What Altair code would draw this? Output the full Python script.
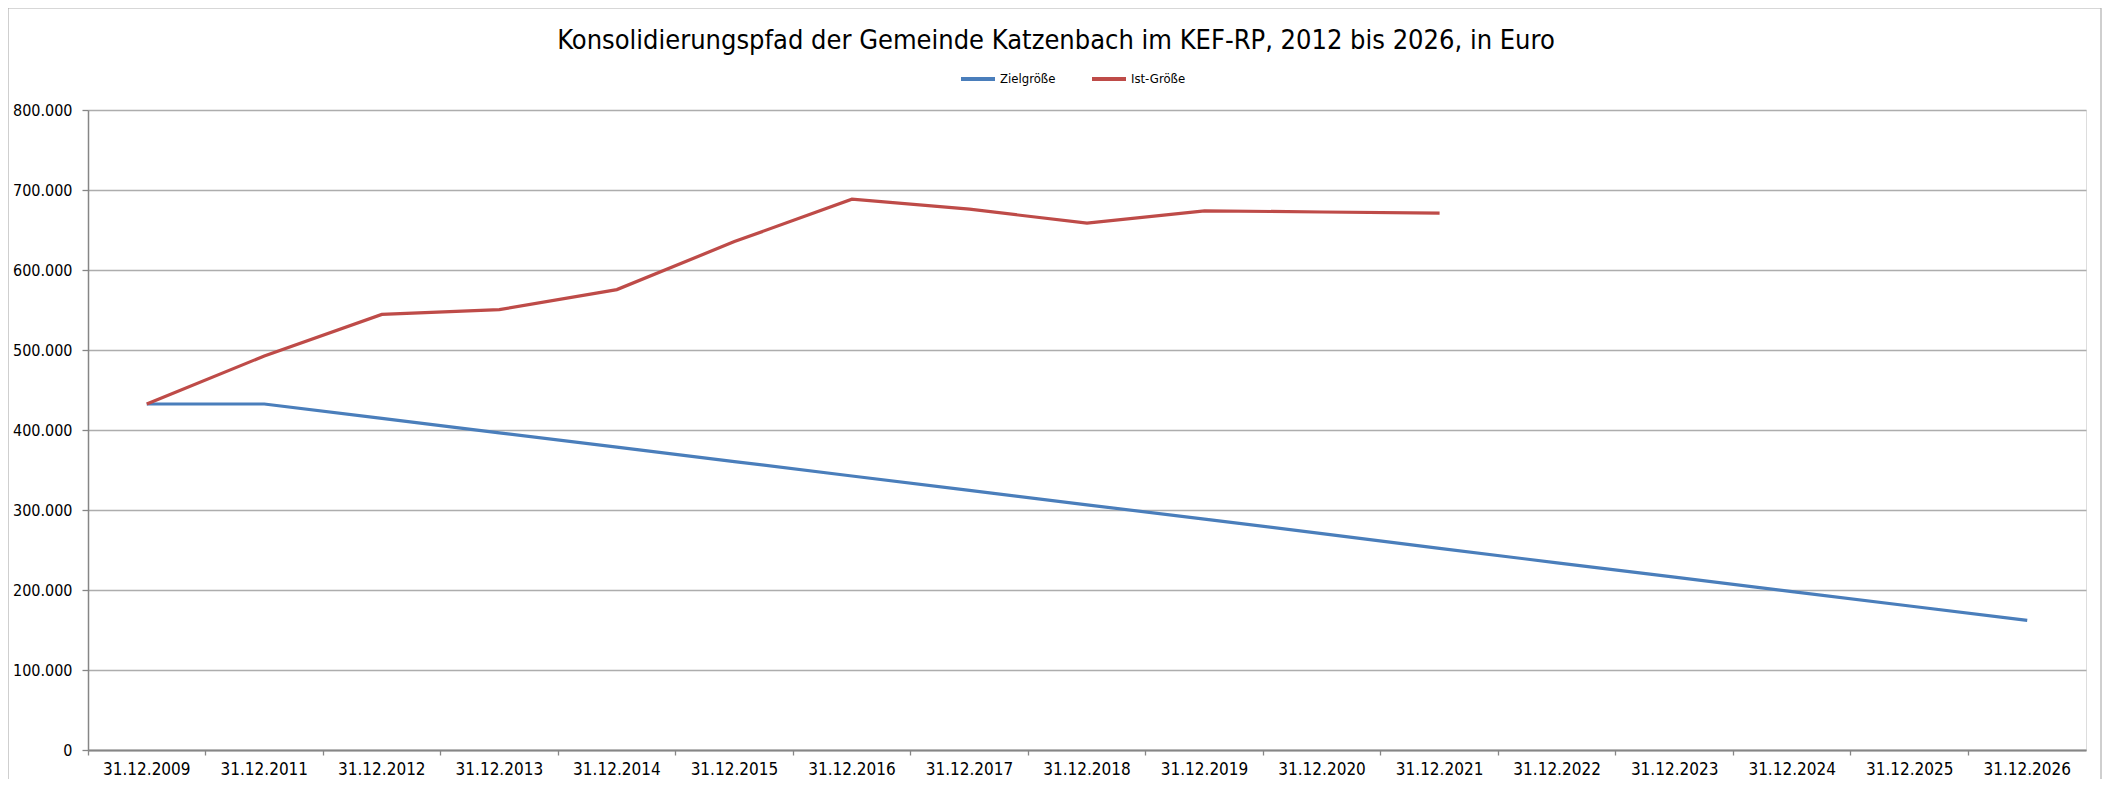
import altair as alt
import pandas as pd

# ---- data ----
dates = ["31.12.2009", "31.12.2011", "31.12.2012", "31.12.2013", "31.12.2014",
         "31.12.2015", "31.12.2016", "31.12.2017", "31.12.2018", "31.12.2019",
         "31.12.2020", "31.12.2021", "31.12.2022", "31.12.2023", "31.12.2024",
         "31.12.2025", "31.12.2026"]
ziel = [432500, 432500, 414500, 396500, 378500, 360500, 342500, 324500, 306500,
        288500, 270500, 252000, 234000, 216000, 198000, 180000, 162000]
ist = [432500, 492500, 544500, 550500, 575500, 635500, 688500, 676000, 658500,
       674000, 672500, 671000]
series = ["Zielgröße", "Ist-Größe"]
colors = ["#4A7EBB", "#BE4B48"]
y_ticks = [0, 100000, 200000, 300000, 400000, 500000, 600000, 700000, 800000]
title_text = "Konsolidierungspfad der Gemeinde Katzenbach im KEF-RP, 2012 bis 2026, in Euro"

rows = []
for d, v in zip(dates, ziel):
    rows.append({"Datum": d, "Wert": v, "Reihe": series[0]})
for d, v in zip(dates, ist):
    rows.append({"Datum": d, "Wert": v, "Reihe": series[1]})
df = pd.DataFrame(rows)

FONT = "Liberation Sans Narrow, Arial Narrow, DejaVu Sans Condensed, sans-serif"
W, H = 1998, 640

lines = alt.Chart(df).mark_line(strokeWidth=3.2).encode(
    x=alt.X("Datum:N", sort=dates,
            scale=alt.Scale(type="band", domain=dates, paddingInner=0, paddingOuter=0),
            bandPosition=0.5,
            axis=alt.Axis(title=None, labelAngle=0, bandPosition=0,
                          ticks=True, tickSize=5, tickColor="#868686", tickWidth=1.3,
                          domainColor="#868686", domainWidth=2,
                          labelFont=FONT, labelFontSize=17, labelColor="#000000",
                          labelPadding=6, grid=False)),
    y=alt.Y("Wert:Q",
            scale=alt.Scale(domain=[0, 800000], nice=False),
            axis=alt.Axis(title=None, values=y_ticks,
                          labelExpr="replace(format(datum.value, ','), ',', '.')",
                          tickSize=6, tickColor="#868686", tickWidth=1.3,
                          domainColor="#868686", domainWidth=1.5,
                          labelFont=FONT, labelFontSize=16, labelColor="#000000",
                          labelPadding=10,
                          grid=True, gridColor="#ADADAD", gridWidth=1.4)),
    color=alt.Color("Reihe:N", sort=series,
                    scale=alt.Scale(domain=series, range=colors),
                    legend=alt.Legend(title=None, orient="none", direction="horizontal",
                                      legendX=871, legendY=-50,
                                      symbolType="stroke", symbolSize=1156,
                                      symbolStrokeWidth=4, labelOffset=3,
                                      columnPadding=28,
                                      labelFont=FONT, labelFontSize=13,
                                      labelColor="#000000")),
)

border = alt.Chart(alt.Data(values=[{}])).mark_rect(
    fill=None, stroke="#B0B0B0", strokeWidth=1.2
).encode(
    x=alt.value(-80), x2=alt.value(2013), y=alt.value(-102), y2=alt.value(760)
)

chart = alt.layer(border, lines).properties(
    width=W, height=H,
    title=alt.TitleParams(title_text, font=FONT, fontSize=27, fontWeight="normal",
                          color="#000000", anchor="middle", frame="group",
                          baseline="middle", dx=-31, offset=-61),
    autosize=alt.AutoSizeParams(type="none"),
    padding={"left": 80, "top": 102, "right": 16, "bottom": 29},
).configure_view(stroke=None).configure(background="white")

chart.save("out.html", embed_options={"renderer": "svg", "actions": False})
